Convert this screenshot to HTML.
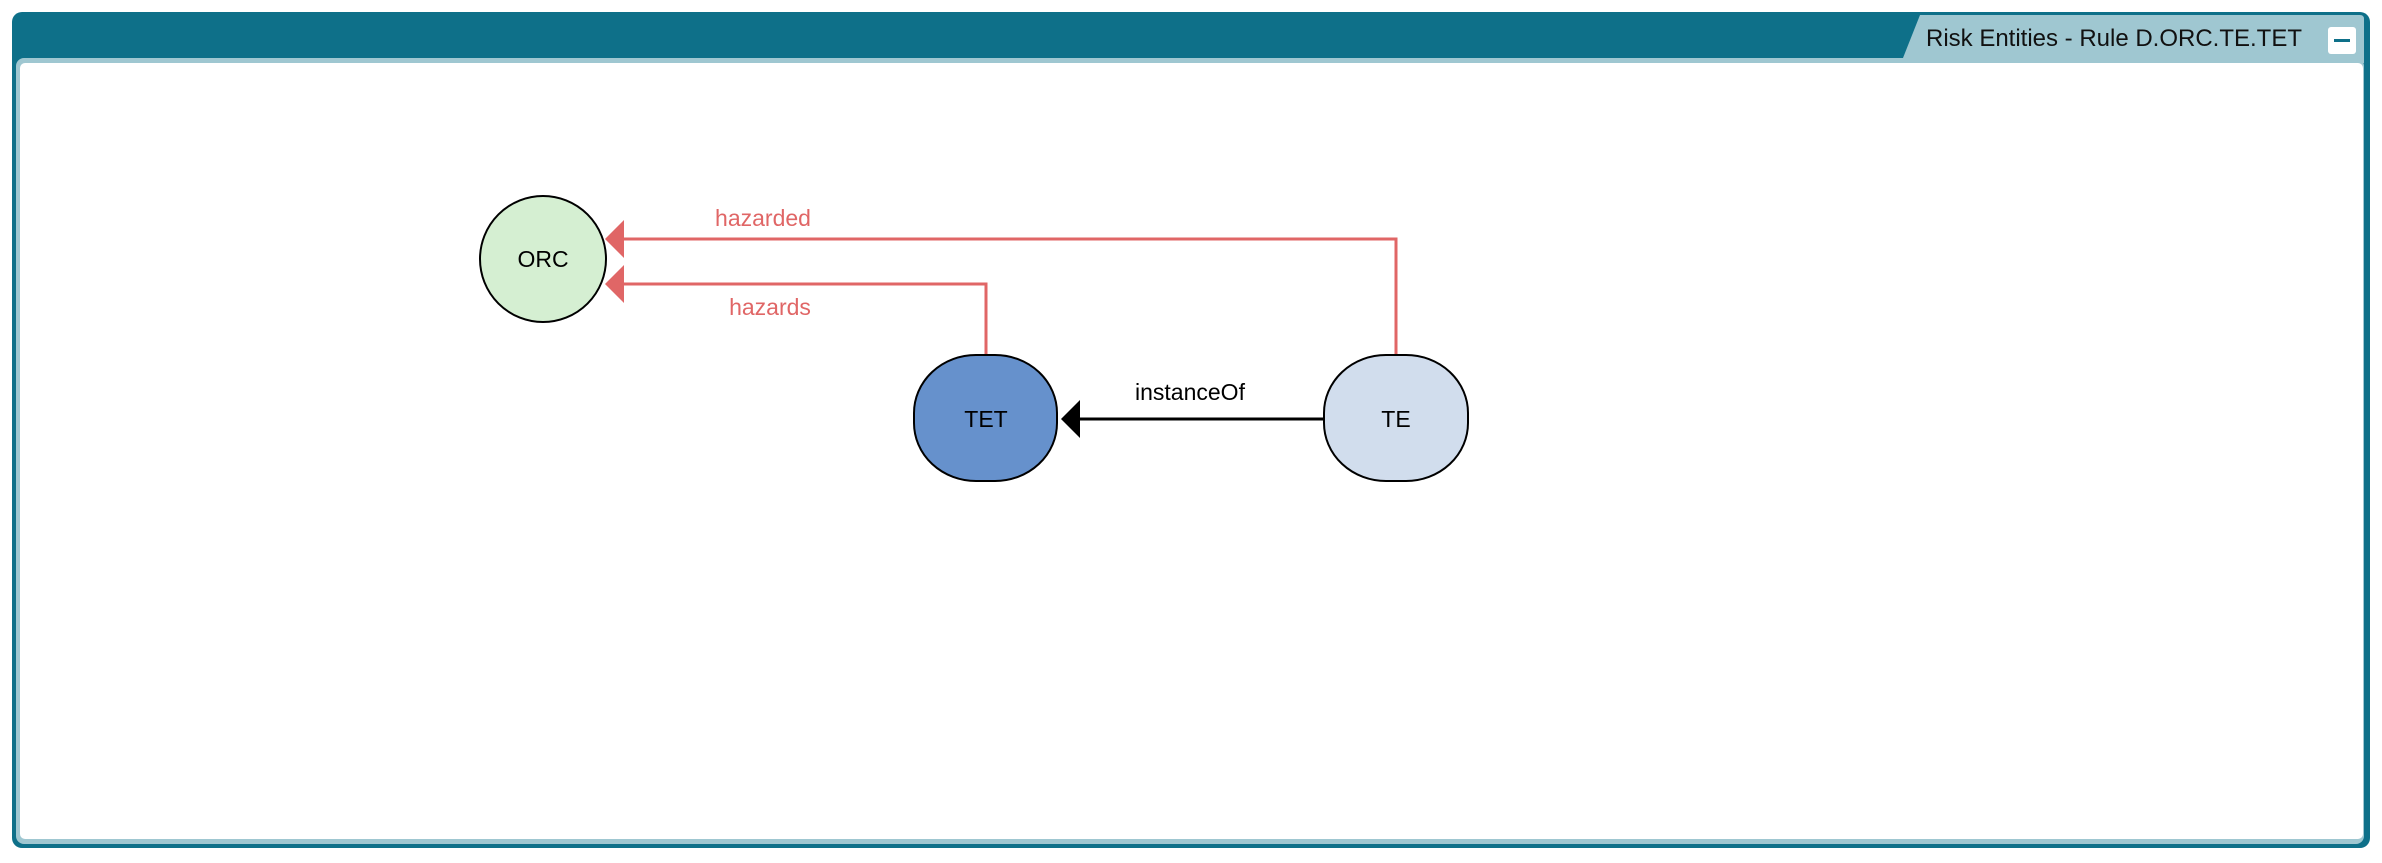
<!DOCTYPE html>
<html><head><style>
html,body{margin:0;padding:0;background:#fff;width:2382px;height:863px;overflow:hidden;font-family:"Liberation Sans",sans-serif}
</style></head><body>
<svg width="2382" height="863" xmlns="http://www.w3.org/2000/svg" style="position:absolute;left:0;top:0">
<rect x="12" y="12" width="2358" height="836" rx="10" fill="#0e7089"/>
<path d="M1901 63 L1920 15 L2360 15 Q2364 15 2364 19 L2364 63 Z" fill="#9fc7d1"/>
<rect x="16" y="58" width="2348" height="786" rx="8" fill="#9fc7d1"/>
<rect x="20" y="63" width="2343" height="776" rx="5" fill="#fff"/>
<text x="1926" y="46" font-size="24" textLength="376" lengthAdjust="spacingAndGlyphs" fill="#111" font-family="Liberation Sans,sans-serif">Risk Entities - Rule D.ORC.TE.TET</text>
<rect x="2328" y="27" width="28" height="27" rx="3" fill="#fff"/>
<rect x="2334" y="39" width="16" height="3" fill="#0e7089"/>
<g fill="none" stroke="#e06666" stroke-width="3">
<polyline points="622,239 1396,239 1396,355"/>
<polyline points="622,284 986,284 986,355"/>
</g>
<polygon points="605,239 624,220 624,258" fill="#e06666"/>
<polygon points="605,284 624,265 624,303" fill="#e06666"/>
<line x1="1324" y1="419" x2="1078" y2="419" stroke="#000" stroke-width="3"/>
<polygon points="1061,419 1080,400 1080,438" fill="#000"/>
<circle cx="543" cy="259" r="63" fill="#d5efd2" stroke="#000" stroke-width="2"/>
<rect x="914" y="355" width="143" height="126" rx="62" ry="58" fill="#6691cc" stroke="#000" stroke-width="2"/>
<rect x="1324" y="355" width="144" height="126" rx="62" ry="58" fill="#d1dded" stroke="#000" stroke-width="2"/>
<g font-size="23" text-anchor="middle" font-family="Liberation Sans,sans-serif">
<text x="543" y="267" fill="#000">ORC</text>
<text x="986" y="427" fill="#000">TET</text>
<text x="1396" y="427" fill="#000">TE</text>
<text x="1190" y="400" fill="#000">instanceOf</text>
<text x="763" y="226" fill="#e06666">hazarded</text>
<text x="770" y="315" fill="#e06666">hazards</text>
</g>
</svg>
</body></html>
